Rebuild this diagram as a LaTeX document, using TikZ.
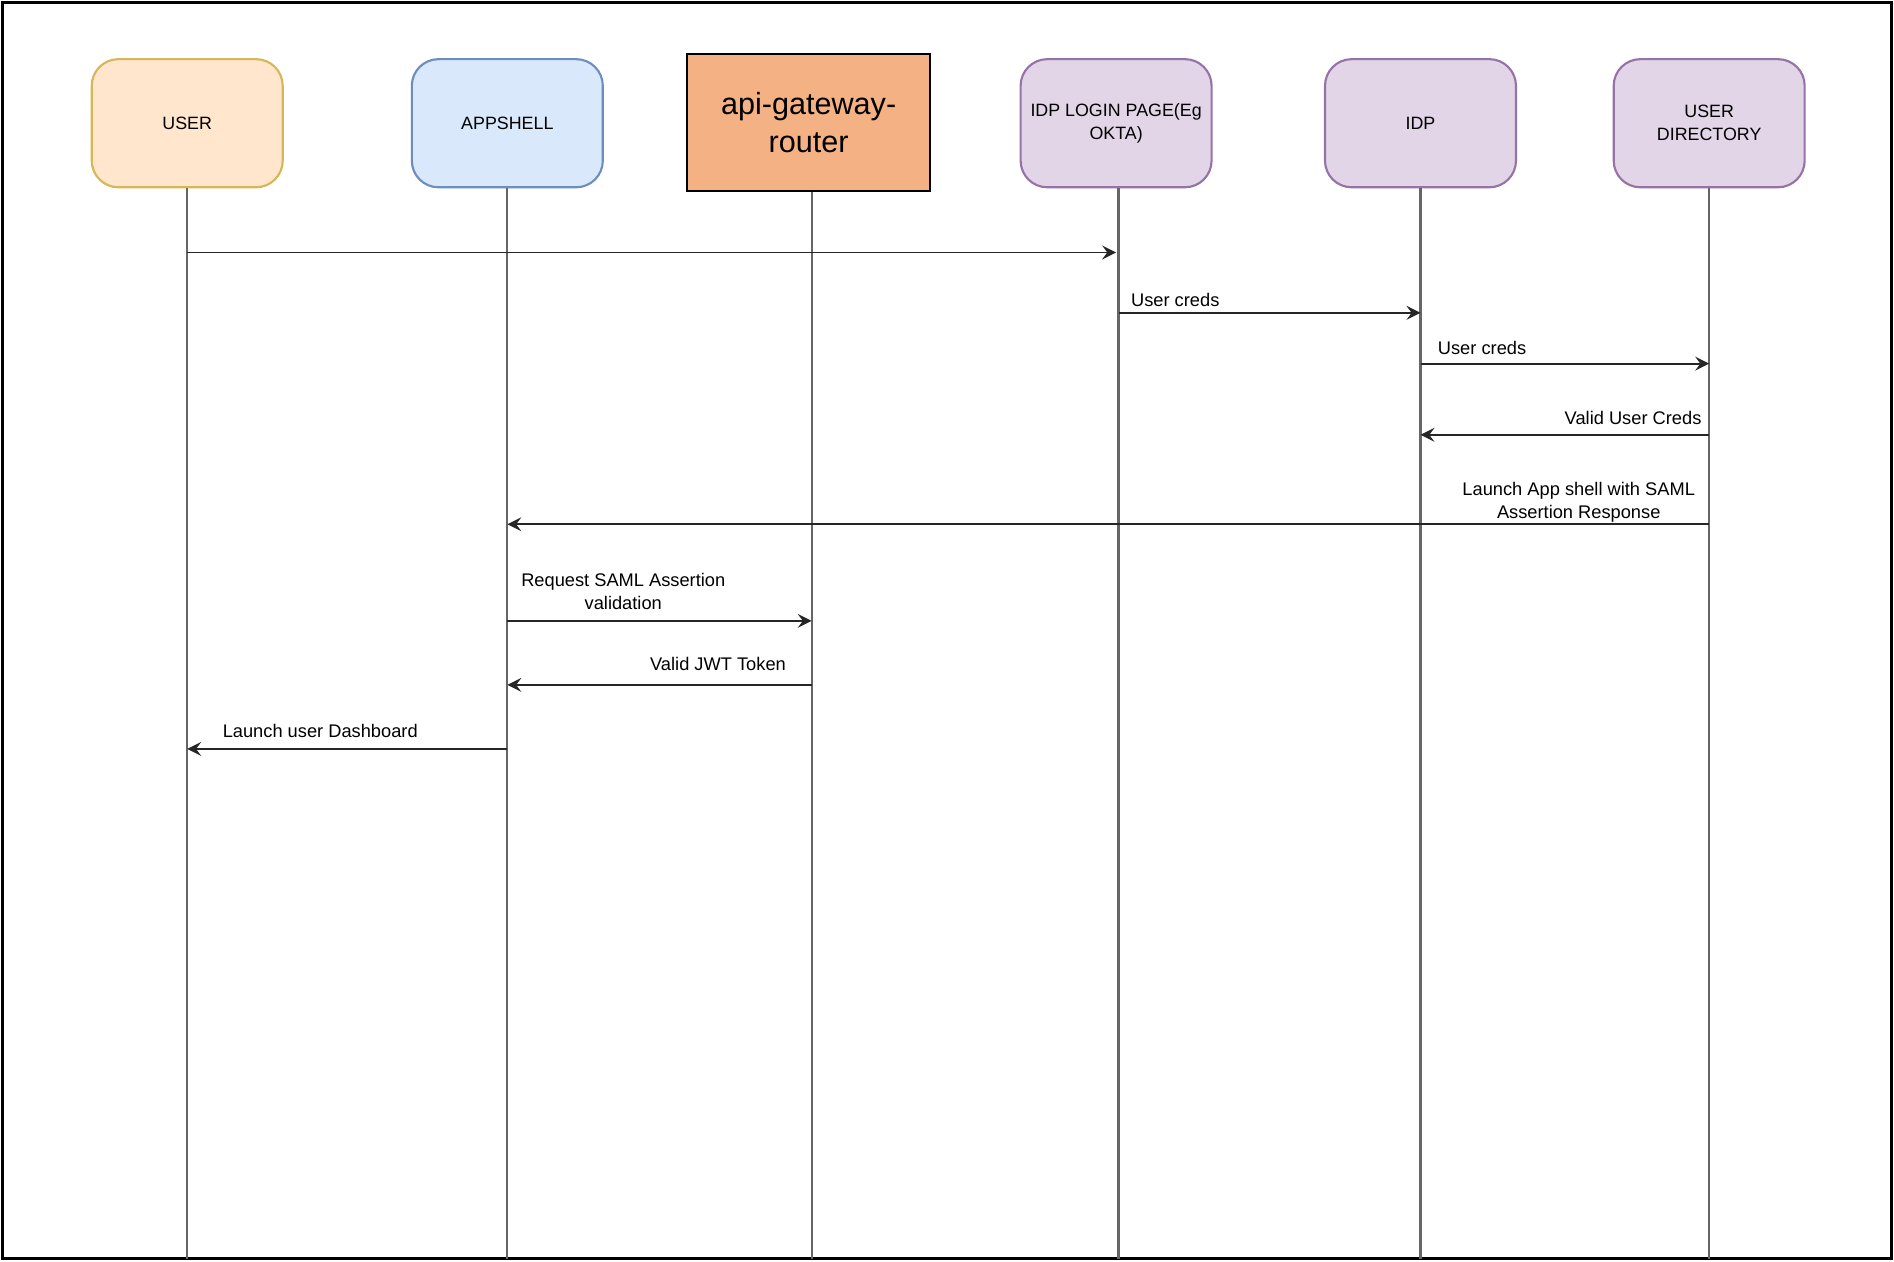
\documentclass[tikz,border=0pt]{standalone}
\usepackage{fontspec}
\setmainfont{Liberation Sans}
\begin{document}
\begin{tikzpicture}[x=0.01cm,y=-0.01cm,
  lbl/.style={font=\fontsize{4.3}{5.4}\selectfont},
  actor/.style={rounded corners=2.2mm,minimum width=1.58cm,minimum height=1.06cm,inner sep=0pt,align=center,font=\fontsize{4.2}{5.4}\selectfont,line width=0.5pt},
  life/.style={draw=black!60,line width=0.55pt},
  msg/.style={draw=black!85,line width=0.45pt,-stealth}]
\useasboundingbox (0,0) rectangle (1568,1044);
\draw[line width=0.6pt] (2,2) rectangle (1566,1042);
\definecolor{uf}{HTML}{FFE6CC}\definecolor{ud}{HTML}{D6B656}
\definecolor{af}{HTML}{DAE8FC}\definecolor{ad}{HTML}{6C8EBF}
\definecolor{pf}{HTML}{E1D5E7}\definecolor{pd}{HTML}{9673A6}
\definecolor{gw}{HTML}{F4B183}
\node[actor,fill=uf,draw=ud] (user) at (155,102) {USER};
\node[actor,fill=af,draw=ad] (app) at (420,102) {APPSHELL};
\node[fill=gw,draw=black,minimum width=2.01cm,minimum height=1.13cm,align=center,font=\fontsize{7.2}{9}\selectfont,line width=0.5pt] (gw) at (669.5,101.5) {api-gateway-\\router};
\node[actor,fill=pf,draw=pd] (login) at (924,102) {IDP LOGIN PAGE(Eg\\OKTA)};
\node[actor,fill=pf,draw=pd] (idp) at (1176,102) {IDP};
\node[actor,fill=pf,draw=pd] (dir) at (1415,102) {USER\\DIRECTORY};
\foreach \n/\x in {user/155,app/420,gw/672,login/926,idp/1176,dir/1415}{
  \coordinate (\n-end) at (\x,1042);
  \draw[life] (\n.south -| \n-end) -- (\n-end);
}
\coordinate (m1a) at (155,209); \coordinate (m1b) at (924,209);
\draw[msg] (m1a) -- (m1b);
\coordinate (m2a) at (926,259); \coordinate (m2b) at (1176,259);
\draw[msg] (m2a) -- (m2b);
\node[lbl,anchor=west] (l2) at (924,248) {User creds};
\coordinate (m3a) at (1176,301); \coordinate (m3b) at (1415,301);
\draw[msg] (m3a) -- (m3b);
\node[lbl,anchor=west] (l3) at (1178,288) {User creds};
\coordinate (m4a) at (1415,360); \coordinate (m4b) at (1176,360);
\draw[msg] (m4a) -- (m4b);
\node[lbl,anchor=east] (l4) at (1421,346) {Valid User Creds};
\coordinate (m5a) at (1415,434); \coordinate (m5b) at (420,434);
\draw[msg] (m5a) -- (m5b);
\node[lbl,align=center] (l5) at (1307,416) {Launch App shell with SAML\\Assertion Response};
\coordinate (m6a) at (420,514); \coordinate (m6b) at (672,514);
\draw[msg] (m6a) -- (m6b);
\node[lbl,align=center] (l6) at (516,490) {Request SAML Assertion\\validation};
\coordinate (m7a) at (672,567); \coordinate (m7b) at (420,567);
\draw[msg] (m7a) -- (m7b);
\node[lbl,anchor=east] (l7) at (663,550) {Valid JWT Token};
\coordinate (m8a) at (420,620); \coordinate (m8b) at (155,620);
\draw[msg] (m8a) -- (m8b);
\node[lbl,anchor=west] (l8) at (172,605) {Launch user Dashboard};
\end{tikzpicture}
\end{document}
